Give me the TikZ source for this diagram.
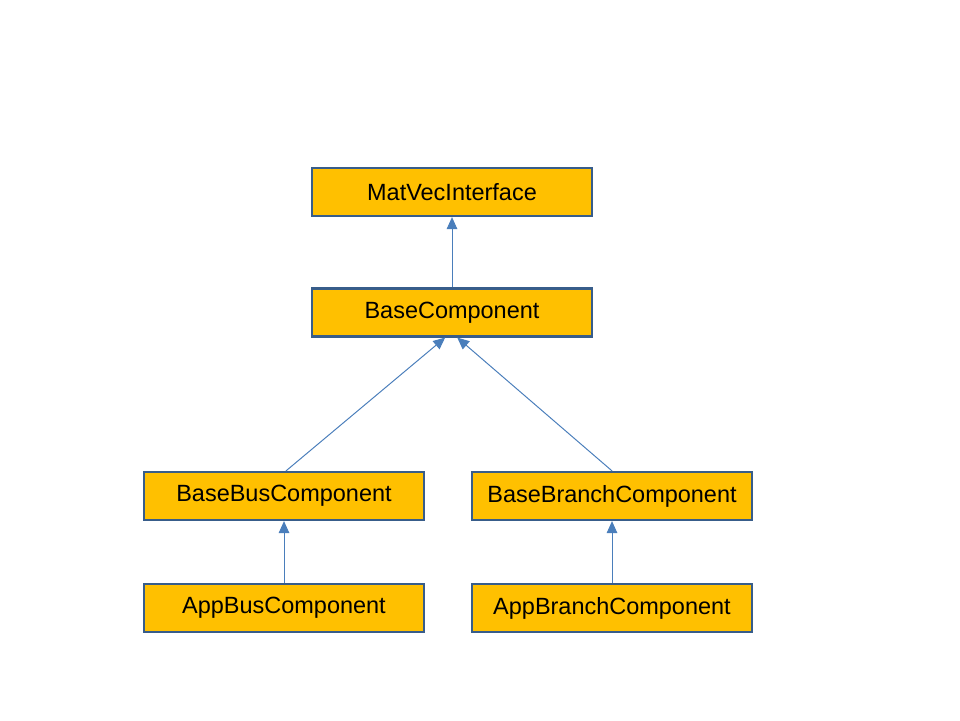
\documentclass[tikz,border=0pt]{standalone}
\usepackage{fontspec}
\setmainfont{Liberation Sans}
\usetikzlibrary{arrows.meta}
\definecolor{boxfill}{HTML}{FFC000}
\definecolor{boxline}{HTML}{385D8A}
\definecolor{arrowblue}{HTML}{4A7EBB}
\tikzset{
  classbox/.style={draw=boxline, line width=1.6pt, fill=boxfill, minimum width=7cm, minimum height=1.2cm, inner sep=0pt, font=\fontsize{16.7}{19}\selectfont},
  inherit/.style={draw=arrowblue, line width=0.7pt, -{Triangle[width=7.5pt,length=8.5pt]}}
}
\begin{document}
\begin{tikzpicture}
\useasboundingbox (0,0) rectangle (24,18);
\node[classbox] (matvec) at (11.3,13.2) {MatVecInterface};
\node[classbox] (base) at (11.3,10.19) {BaseComponent};
\node[classbox] (basebus) at (7.1,5.6) {BaseBusComponent};
\node[classbox] (basebranch) at (15.3,5.6) {BaseBranchComponent};
\node[classbox] (appbus) at (7.1,2.8) {AppBusComponent};
\node[classbox] (appbranch) at (15.3,2.8) {AppBranchComponent};
  \draw[inherit] (base) -- (matvec);
  \draw[inherit] ([xshift=0.05cm]basebus.north) -- ([xshift=-0.17cm]base.south);
  \draw[inherit] (basebranch.north) -- ([xshift=0.13cm]base.south);
  \draw[inherit] (appbus) -- (basebus);
  \draw[inherit] (appbranch) -- (basebranch);
\end{tikzpicture}
\end{document}
